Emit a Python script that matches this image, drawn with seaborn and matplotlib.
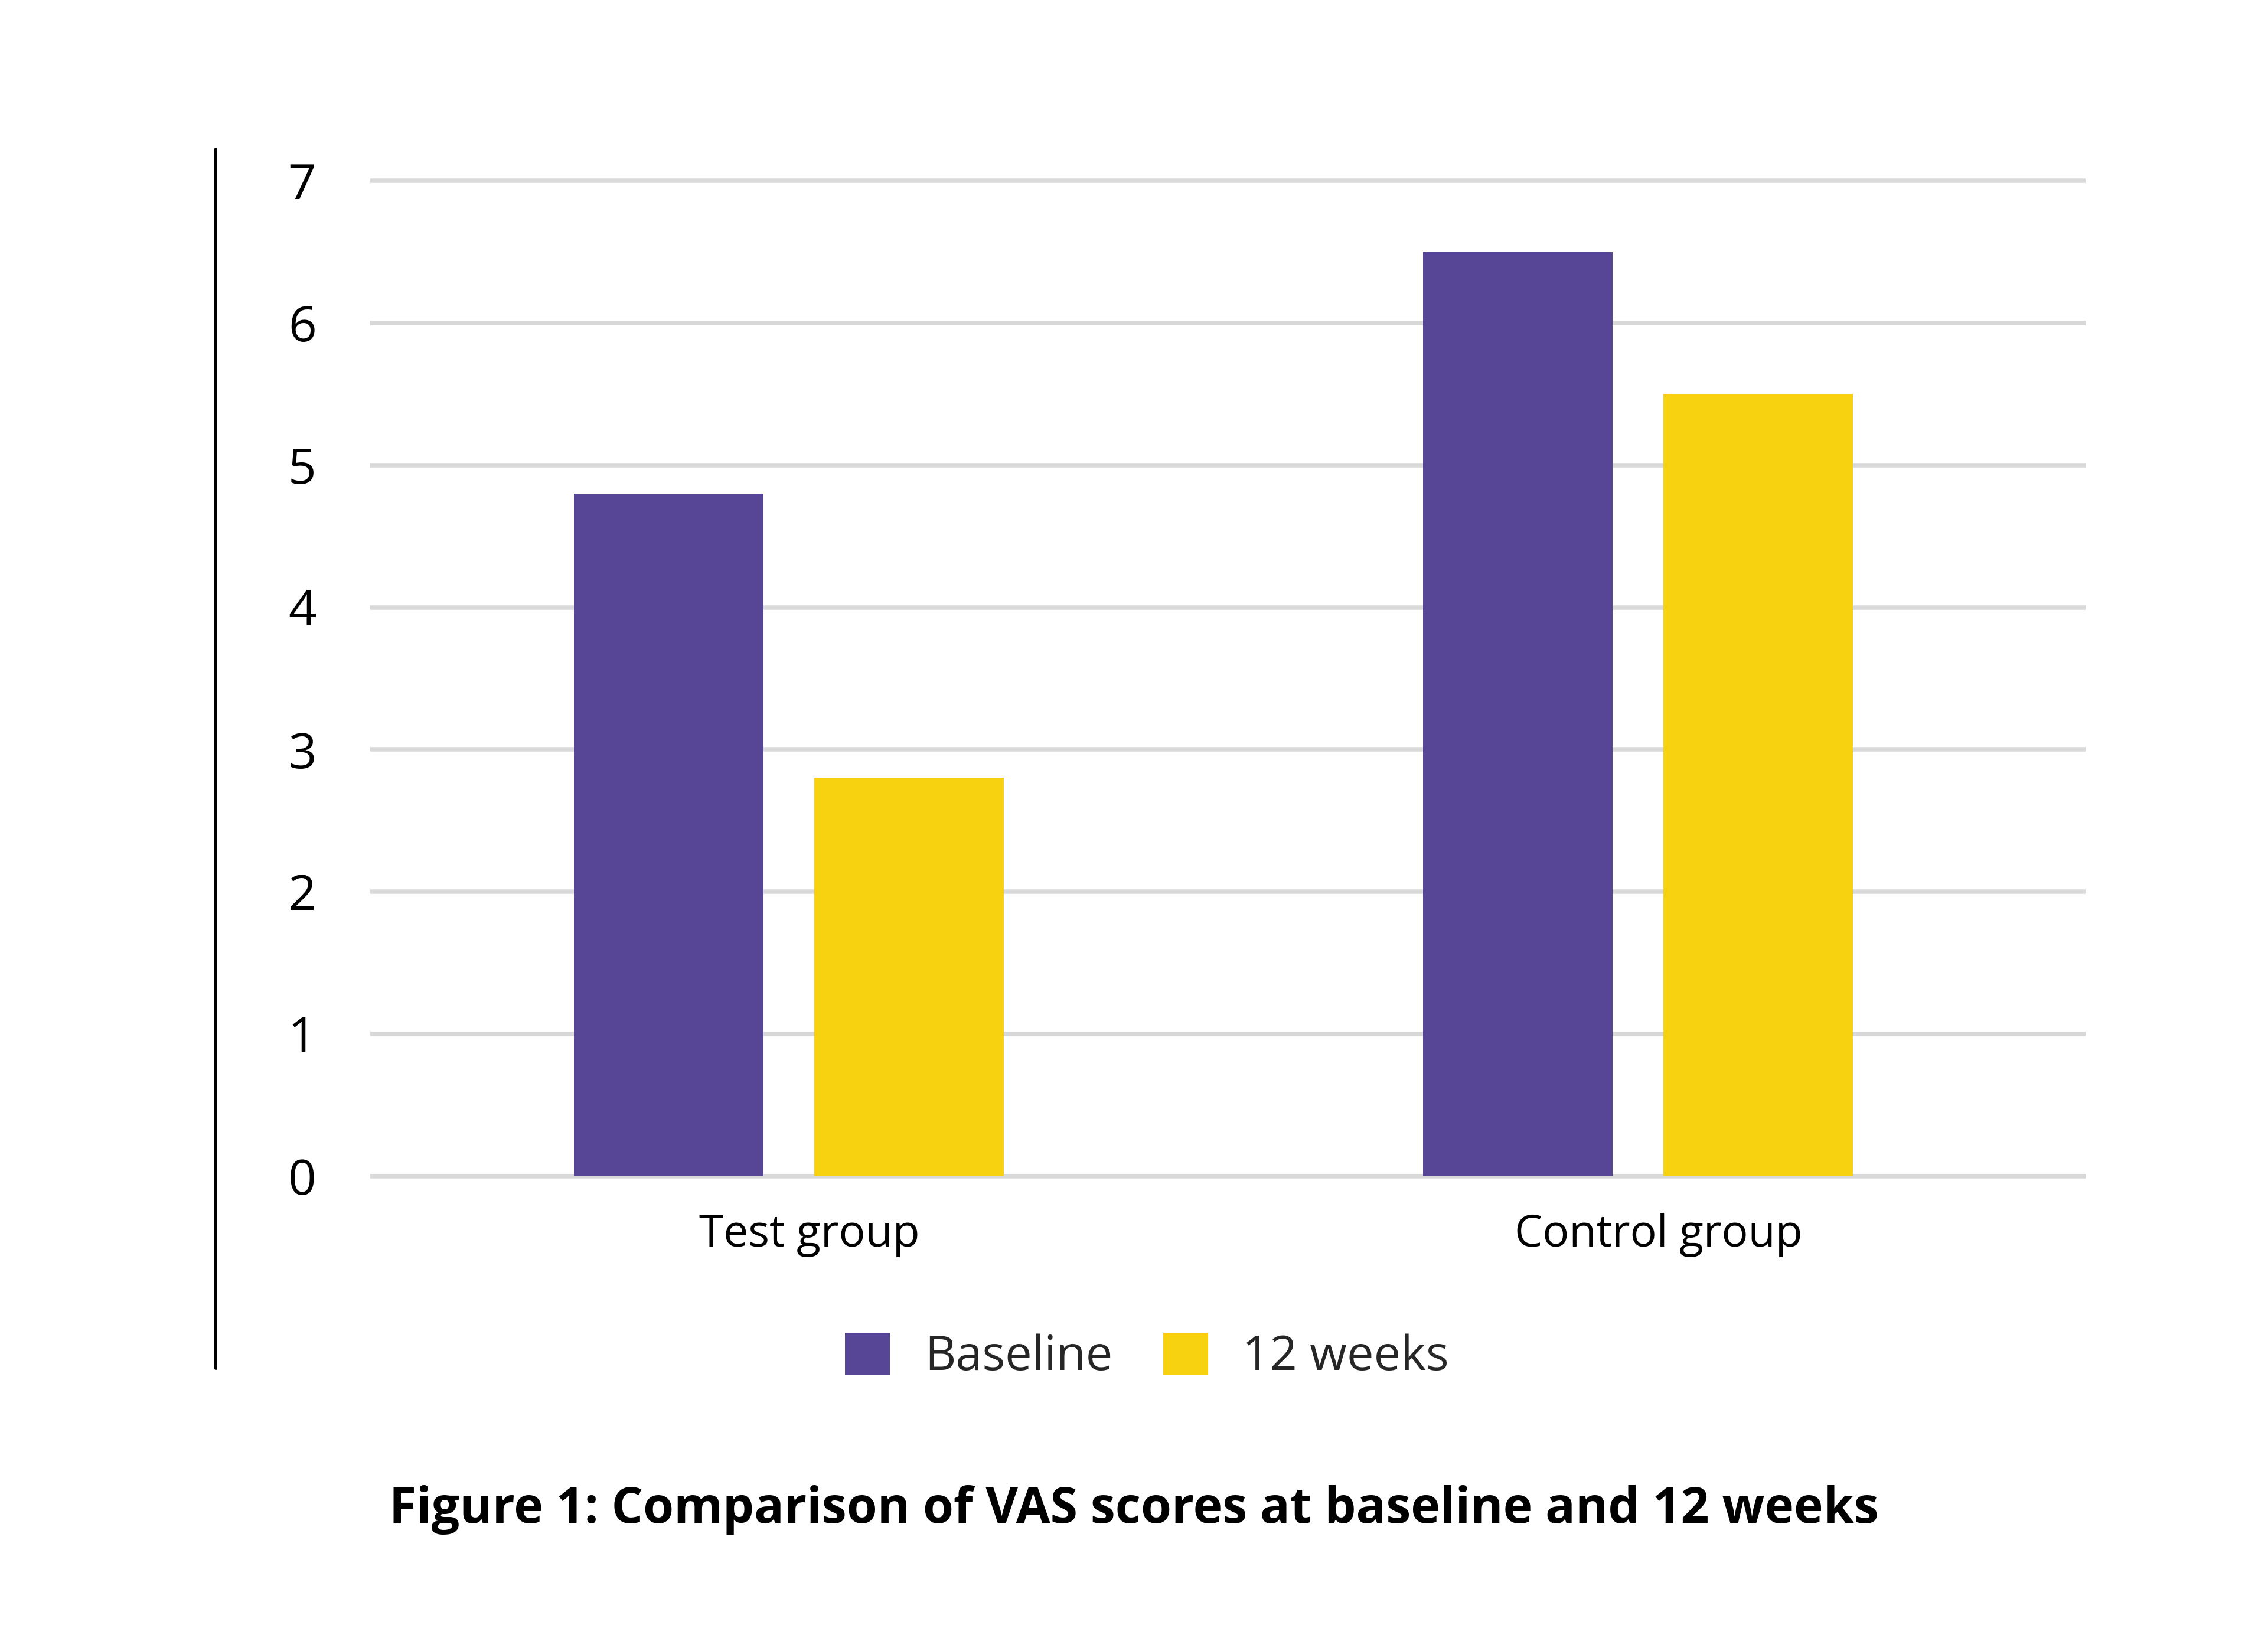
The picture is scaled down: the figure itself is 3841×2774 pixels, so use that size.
import matplotlib
matplotlib.use('Agg')
import matplotlib.pyplot as plt
import matplotlib.transforms as mtransforms
import seaborn as sns
import pandas as pd
from matplotlib.lines import Line2D

# ---- data ----
groups = ['Test group', 'Control group']
series = ['Baseline', '12 weeks']
baseline = [4.8, 6.5]
weeks12 = [2.8, 5.5]
yticks = [0, 1, 2, 3, 4, 5, 6, 7]
title = 'Figure 1: Comparison of VAS scores at baseline and 12 weeks'
colors = ['#574696', '#F7D211']

df = pd.DataFrame({
    'group': groups * 2,
    'time': [series[0]] * len(groups) + [series[1]] * len(groups),
    'score': baseline + weeks12,
})

sns.set_theme(style='white')
plt.rcParams['font.family'] = ['Open Sans', 'DejaVu Sans']

W, H = 1568.0, 1132.4  # layout reference units
fig = plt.figure(figsize=(3841 / 300, 2774 / 300), dpi=300)
fig.patch.set_facecolor('white')
ax = fig.add_axes([256 / W, 1 - 817.9 / H, (1442 - 256) / W, (817.9 - 120.1) / H])

sns.barplot(data=df, x='group', y='score', hue='time', order=groups,
            hue_order=series, palette=colors, width=0.566, gap=0.211,
            saturation=1, errorbar=None, linewidth=0, ax=ax)

ax.set_xlim(-0.493, 1.527)
ax.set_ylim(-0.05, 7.05)
ax.set_yticks(yticks)
ax.set_yticklabels([str(t) for t in yticks])
ax.yaxis.grid(True, color='#D9D9D9', linewidth=1.8)
ax.xaxis.grid(False)
ax.set_axisbelow(True)
for s in ax.spines.values():
    s.set_visible(False)
ax.set_xlabel('')
ax.set_ylabel('')
ax.tick_params(axis='y', length=0, pad=22, labelsize=20, labelcolor='black')
ax.tick_params(axis='x', length=0, pad=12, labelsize=18, labelcolor='black')

# category labels sit slightly right of the group centre in the reference
shift = mtransforms.ScaledTranslation(0.115, 0, fig.dpi_scale_trans)
for lab in ax.get_xticklabels():
    lab.set_transform(lab.get_transform() + shift)

handles, labels = ax.get_legend_handles_labels()
if ax.get_legend() is not None:
    ax.get_legend().remove()
fig.legend(handles, labels, loc='center', bbox_to_anchor=(793 / W, 1 - 938 / H),
           ncol=2, frameon=False, fontsize=19.5, handlelength=0.94,
           handleheight=0.97, handletextpad=0.72, columnspacing=1.05)

fig.add_artist(Line2D([149 / W, 149 / W], [1 - 103 / H, 1 - 946 / H],
                      color='black', linewidth=1.2, transform=fig.transFigure))

fig.text(784 / W, 1 - 1044 / H, title, ha='center', va='center',
         fontsize=20.2, fontweight='bold', color='black')

fig.savefig('out.png', dpi=300, facecolor='white')
